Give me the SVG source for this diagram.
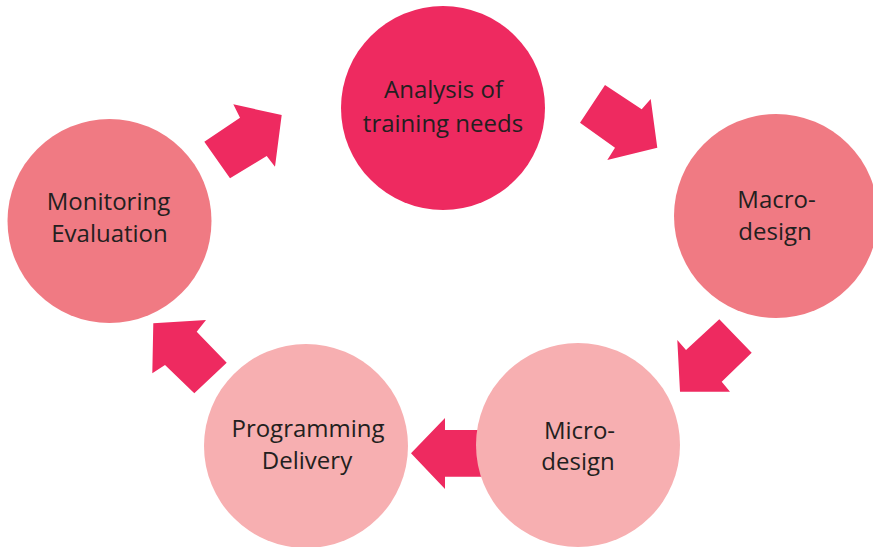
<svg xmlns="http://www.w3.org/2000/svg" width="873" height="547" viewBox="0 0 873 547">
  <style>
    .arrow { fill: #EE2A60; }
    .c1 { fill: #EE2A60; }
    .c2 { fill: #F07A83; }
    .c3 { fill: #F7AFB1; }
    .label { font-family: "Open Sans", "Liberation Sans", sans-serif; font-size: 24px; fill: #231F20; text-anchor: middle; }
  </style>
  <rect width="873" height="547" fill="#FFFFFF"/>

  <!-- block arrows between stages (drawn beneath the circles) -->
  <g id="connectors">
    <polygon class="arrow" points="580,122.7 605,85 641.7,109.3 650.7,99 657.3,147.7 607.3,160 615,147.7"/>
    <polygon class="arrow" points="719.3,319.3 751.7,352.7 721.7,381.7 730,391.7 680,391.7 677.3,340 686,350"/>
    <polygon class="arrow" points="490,430 445,430 445,418 411,453.3 445,489 445,476.7 490,476.7"/>
    <polygon class="arrow" points="226.7,362.7 196.7,331.7 206,320 153.3,323.3 152.3,373.3 165,365 194.3,393.3"/>
    <polygon class="arrow" points="204.3,141.7 230,178.3 266.7,156 275,166.7 281.7,115 233.3,104.3 240,117.7"/>
  </g>

  <g id="analysis">
    <circle class="c1" cx="443" cy="108" r="102"/>
    <text class="label" x="443.5" y="98">Analysis of</text>
    <text class="label" x="443" y="131.5">training needs</text>
  </g>

  <g id="macro-design">
    <circle class="c2" cx="776" cy="216" r="102"/>
    <text class="label" x="776.5" y="207.5">Macro-</text>
    <text class="label" x="775" y="239.5">design</text>
  </g>

  <g id="micro-design">
    <circle class="c3" cx="578" cy="445" r="102"/>
    <text class="label" x="579.5" y="438.5">Micro-</text>
    <text class="label" x="578" y="470">design</text>
  </g>

  <g id="programming-delivery">
    <circle class="c3" cx="306" cy="446" r="102"/>
    <text class="label" x="308" y="436.5">Programming</text>
    <text class="label" x="307" y="468.5">Delivery</text>
  </g>

  <g id="monitoring-evaluation">
    <circle class="c2" cx="109.5" cy="221" r="102"/>
    <text class="label" x="108.5" y="209.5">Monitoring</text>
    <text class="label" x="109.5" y="241.5">Evaluation</text>
  </g>
</svg>
